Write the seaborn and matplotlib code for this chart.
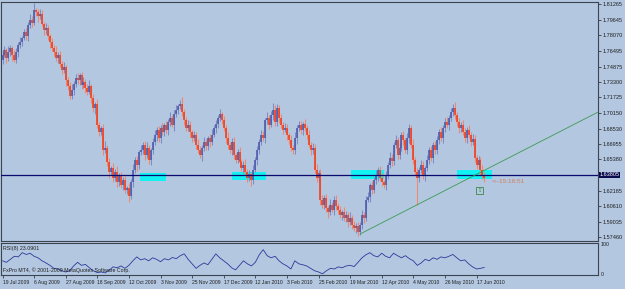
import numpy as np
import pandas as pd
import matplotlib
matplotlib.use('Agg')
import matplotlib.pyplot as plt
import matplotlib.transforms as mtransforms
from matplotlib.patches import Rectangle
import seaborn as sns

# --- Data ---
# daily closes, one per bar, 19 Jul 2009 .. mid Jun 2010
closes = [
    1.7605, 1.7656, 1.7574, 1.7636, 1.7677, 1.7605, 1.7554, 1.7636, 1.7707, 1.7738,
    1.7779, 1.7840, 1.7800, 1.7912, 1.7963, 1.7930, 1.8065, 1.8044, 1.8004, 1.8024,
    1.7922, 1.7860, 1.7881, 1.7799, 1.7738, 1.7677, 1.7636, 1.7574, 1.7610, 1.7513,
    1.7452, 1.7480, 1.7350, 1.7288, 1.7186, 1.7247, 1.7309, 1.7370, 1.7350, 1.7401,
    1.7299, 1.7329, 1.7268, 1.7227, 1.7288, 1.7166, 1.7063, 1.7100, 1.6890, 1.6818,
    1.6860, 1.6634, 1.6655, 1.6512, 1.6410, 1.6451, 1.6348, 1.6410, 1.6307, 1.6369,
    1.6277, 1.6328, 1.6226, 1.6246, 1.6164, 1.6307, 1.6430, 1.6532, 1.6481, 1.6614,
    1.6634, 1.6686, 1.6583, 1.6655, 1.6532, 1.6634, 1.6716, 1.6788, 1.6839, 1.6757,
    1.6859, 1.6818, 1.6890, 1.6839, 1.6920, 1.6961, 1.6890, 1.7002, 1.7043, 1.7084,
    1.7104, 1.7023, 1.6941, 1.6859, 1.6890, 1.6818, 1.6757, 1.6788, 1.6686, 1.6634,
    1.6583, 1.6655, 1.6716, 1.6675, 1.6757, 1.6716, 1.6788, 1.6859, 1.6900, 1.6961,
    1.7002, 1.6941, 1.6859, 1.6757, 1.6686, 1.6634, 1.6716, 1.6583, 1.6532, 1.6614,
    1.6512, 1.6451, 1.6481, 1.6410, 1.6348, 1.6389, 1.6328, 1.6430, 1.6532, 1.6634,
    1.6716, 1.6788, 1.6760, 1.6941, 1.6961, 1.6890, 1.6992, 1.7043, 1.6920, 1.7063,
    1.6961, 1.6890, 1.6839, 1.6859, 1.6788, 1.6737, 1.6655, 1.6634, 1.6757, 1.6859,
    1.6890, 1.6839, 1.6900, 1.6859, 1.6788, 1.6686, 1.6634, 1.6660, 1.6430, 1.6348,
    1.6400, 1.6124, 1.6073, 1.6144, 1.6042, 1.6001, 1.6073, 1.6022, 1.6124, 1.6062,
    1.6022, 1.5970, 1.6001, 1.5940, 1.5970, 1.5899, 1.5940, 1.5868, 1.5838, 1.5858,
    1.5797, 1.5868, 1.5970, 1.5940, 1.6124, 1.6150, 1.6277, 1.6226, 1.6328, 1.6379,
    1.6430, 1.6348, 1.6307, 1.6277, 1.6379, 1.6481, 1.6553, 1.6520, 1.6686, 1.6737,
    1.6583, 1.6655, 1.6788, 1.6737, 1.6634, 1.6757, 1.6859, 1.6686, 1.6532, 1.6410,
    1.6348, 1.6430, 1.6481, 1.6379, 1.6451, 1.6532, 1.6634, 1.6553, 1.6686, 1.6634,
    1.6737, 1.6818, 1.6757, 1.6859, 1.6920, 1.6890, 1.6961, 1.7023, 1.7063, 1.6992,
    1.6920, 1.6859, 1.6890, 1.6818, 1.6757, 1.6839, 1.6788, 1.6716, 1.6750, 1.6553,
    1.6481, 1.6532, 1.6430, 1.6369, 1.6348,
]
first_open = 1.7554

# wick lengths above / below the body, in pips
up_wick = [
    30, 45, 20, 60, 35, 25, 50, 40, 30, 55, 20, 35, 45, 30, 60, 40, 70, 25, 35, 50,
    40, 25, 55, 30, 20, 45, 35, 60, 25, 40, 30, 50, 20, 35, 45, 65, 30, 40, 55, 25,
    35, 50, 30, 45, 60, 25, 40, 30, 55, 35, 20, 45, 70, 30, 40, 25, 50, 35, 60, 30,
    45, 30, 40, 25, 55, 35, 60, 30, 45, 20, 50, 35, 40, 65, 30, 25, 45, 55, 35, 40,
    30, 55, 25, 40, 35, 60, 30, 45, 50, 25, 40, 70, 35, 30, 55, 40, 25, 45, 35, 60,
    40, 30, 50, 35, 25, 45, 60, 35, 40, 30, 55, 25, 45, 35, 65, 30, 40, 50, 25, 35,
    50, 35, 40, 60, 30, 45, 25, 55, 35, 40, 30, 50, 45, 25, 60, 35, 40, 30, 55, 45,
    35, 45, 30, 55, 40, 25, 50, 35, 60, 30, 45, 40, 25, 55, 35, 50, 30, 45, 40, 60,
    30, 40, 55, 35, 45, 25, 60, 30, 40, 50, 35, 45, 25, 55, 40, 30, 65, 35, 45, 30,
    45, 35, 50, 30, 40, 60, 25, 45, 35, 55, 30, 40, 50, 25, 45, 35, 60, 40, 30, 50,
    35, 50, 30, 45, 25, 55, 40, 35, 60, 30, 45, 35, 50, 40, 25, 55, 30, 45, 35, 40,
    40, 30, 55, 35, 45, 50, 30, 40, 25, 60, 35, 45, 30, 50, 40, 35, 55, 30, 45, 40,
    30, 45, 35, 50, 40,
]
down_wick = [
    40, 25, 55, 30, 45, 60, 20, 35, 50, 30, 45, 25, 40, 55, 30, 35, 20, 45, 60, 30,
    25, 50, 35, 40, 60, 30, 45, 25, 55, 35, 40, 30, 65, 45, 25, 35, 50, 30, 40, 55,
    45, 30, 55, 35, 25, 50, 40, 60, 30, 45, 35, 55, 25, 40, 60, 30, 45, 35, 50, 40,
    30, 55, 35, 45, 40, 25, 50, 35, 60, 40, 30, 45, 55, 25, 40, 50, 35, 30, 60, 45,
    55, 35, 45, 30, 50, 40, 25, 60, 35, 45, 30, 40, 55, 35, 25, 50, 45, 35, 40, 30,
    35, 60, 30, 45, 40, 55, 35, 25, 50, 40, 30, 45, 35, 55, 40, 30, 50, 45, 35, 25,
    40, 30, 55, 35, 45, 30, 60, 40, 25, 50, 45, 35, 30, 55, 40, 45, 25, 50, 35, 40,
    50, 35, 45, 25, 55, 40, 30, 45, 35, 60, 30, 40, 50, 35, 45, 25, 55, 40, 30, 45,
    35, 50, 30, 45, 40, 60, 35, 25, 55, 40, 45, 30, 50, 35, 40, 55, 30, 45, 35, 50,
    45, 30, 40, 55, 35, 25, 50, 40, 30, 45, 60, 35, 40, 30, 55, 45, 35, 50, 40, 30,
    40, 45, 35, 50, 30, 40, 55, 35, 45, 30, 50, 40, 35, 45, 60, 30, 40, 35, 50, 45,
    35, 40, 30, 55, 45, 35, 50, 30, 40, 45, 35, 55, 40, 30, 45, 50, 35, 40, 30, 45,
    40, 35, 50, 30, 45,
]

# long wicks that stick far out of the bodies
wick_bars = [16, 64, 90, 110, 126, 137, 180, 210, 228, 244]
wick_ends = [1.8106, 1.6103, 1.7145, 1.7043, 1.6287, 1.7115, 1.5766, 1.6073, 1.7104, 1.6307]

# RSI(8), every second bar
rsi_values = [
    45, 40, 50, 60, 58, 72, 66, 70, 60, 55, 45, 38, 30, 20, 18, 12, 8, 12, 28, 40,
    30, 33, 22, 12, 6, 8, 5, 14, 25, 22, 28, 20, 30, 45, 58, 48, 52, 45, 55, 50,
    42, 52, 48, 56, 52, 62, 68, 50, 35, 20, 30, 38, 32, 50, 68, 55, 45, 35, 22, 15,
    30, 45, 35, 28, 40, 65, 82, 62, 55, 60, 45, 35, 28, 18, 45, 35, 32, 28, 20, 12,
    8, 2, 12, 20, 18, 25, 22, 28, 30, 26, 40, 55, 65, 72, 62, 58, 70, 60, 55, 70,
    62, 55, 62, 52, 45, 30, 38, 50, 45, 55, 50, 58, 55, 60, 66, 55, 45, 48, 35, 25,
    18, 20, 23.09,
]

date_labels = ['19 Jul 2009', '6 Aug 2009', '27 Aug 2009', '18 Sep 2009', '12 Oct 2009',
               '3 Nov 2009', '25 Nov 2009', '17 Dec 2009', '12 Jan 2010', '3 Feb 2010',
               '25 Feb 2010', '19 Mar 2010', '12 Apr 2010', '4 May 2010', '26 May 2010',
               '17 Jun 2010']
price_ticks = [1.81265, 1.79645, 1.78070, 1.76495, 1.74875, 1.73300, 1.71725, 1.70150,
               1.68530, 1.66955, 1.65380, 1.62185, 1.60610, 1.59035, 1.57460]
price_tick_labels = ['1.81265', '1.79645', '1.78070', '1.76495', '1.74875', '1.73300',
                     '1.71725', '1.70150', '1.68530', '1.66955', '1.65380', '1.62185',
                     '1.60610', '1.59035', '1.57460']

hline_price = 1.6380
hline_label = '1.63805'

# support zones (cyan rectangles)
zone_start = [69.5, 116, 176.5, 230]
zone_end = [83, 133.5, 193, 248]
zone_low = [1.6318, 1.6328, 1.6338, 1.6338]
zone_high = [1.6399, 1.6410, 1.6430, 1.6430]

# trend line from the March low
trend_bars = [181, 301.5]
trend_prices = [1.5776, 1.7022]

# --- Style ---
bg = '#B3C7E0'
up_col = '#4B58A8'
down_col = '#F23A18'
up_wick_col = '#7F8CC6'
down_wick_col = '#F2876A'
frame_col = '#3C4450'

sns.set_theme(style='white', rc={'axes.facecolor': bg, 'figure.facecolor': bg})
plt.rcParams['font.family'] = ['Liberation Sans', 'DejaVu Sans']

W, H = 625, 289
fig = plt.figure(figsize=(W / 100, H / 100), dpi=100)
ax = fig.add_axes([1 / W, 1 - 241 / H, 597 / W, 239 / H])
ax_rsi = fig.add_axes([1 / W, 14 / H, 597 / W, 32 / H], sharex=ax)

bars = np.arange(len(closes))
closes_arr = np.array(closes)
opens_arr = np.r_[first_open, closes_arr[:-1]]
is_up = closes_arr >= opens_arr
highs = np.maximum(opens_arr, closes_arr) + np.array(up_wick) * 1e-4
lows = np.minimum(opens_arr, closes_arr) - np.array(down_wick) * 1e-4
for b, e in zip(wick_bars, wick_ends):
    highs[b] = max(highs[b], e)
    lows[b] = min(lows[b], e)

body_cols = [up_col if u else down_col for u in is_up]
wick_cols = [up_wick_col if u else down_wick_col for u in is_up]

# cyan zones under the candles
for s, e, lo, hi in zip(zone_start, zone_end, zone_low, zone_high):
    ax.add_patch(Rectangle((s, lo), e - s, hi - lo, facecolor='#12F2F2',
                           edgecolor='none', zorder=1))

# wicks + bodies
ax.vlines(bars, lows, highs, colors=wick_cols, linewidth=0.75, zorder=2)
ax.vlines(bars, opens_arr, closes_arr, colors=body_cols, linewidth=1.15, zorder=3)

ax.axhline(hline_price, color='#0A0A6E', linewidth=0.9, zorder=4)
sns.lineplot(x=trend_bars, y=trend_prices, ax=ax, color='#3E9A52', linewidth=0.6, zorder=4)

ax.text(247.5, 1.6318, '<--15:16:51', fontsize=4.6, color='#D07E5A', va='center', ha='left')
ax.text(241.5, 1.6221, '\u21e7', fontsize=4, color='#3A8A4A', va='center', ha='center',
        family=['DejaVu Sans'],
        bbox=dict(facecolor='none', edgecolor='#3A8A4A', linewidth=0.6, pad=0.6))

ax.set_xlim(-0.76, 301.5)
ax.set_ylim(1.5705, 1.8147)
ax.yaxis.tick_right()
ax.set_yticks(price_ticks)
ax.set_yticklabels(price_tick_labels)
ax.tick_params(axis='y', direction='out', length=2, width=0.5, labelsize=4, pad=1,
               colors='#202020', right=True, left=False)
ax.tick_params(axis='x', bottom=False, labelbottom=False)
trans = mtransforms.blended_transform_factory(ax.transAxes, ax.transData)
ax.text(1.003, hline_price, hline_label, transform=trans, fontsize=4, color='white',
        va='center', ha='left',
        bbox=dict(facecolor='#0A0A50', edgecolor='none', pad=0.4))

# RSI panel
rsi_bars = np.arange(0, len(closes), 2)
sns.lineplot(x=rsi_bars, y=rsi_values, ax=ax_rsi, color='#2B3A9A', linewidth=0.6)
ax_rsi.set_ylim(-2, 104)
ax_rsi.yaxis.tick_right()
ax_rsi.set_yticks([100, 0])
ax_rsi.set_yticklabels(['100', '0'])
ax_rsi.tick_params(axis='y', length=0, labelsize=3.8, pad=2, colors='#202020')
ax_rsi.set_xticks(np.arange(0, 16 * len(date_labels), 16))
ax_rsi.set_xticklabels(date_labels, ha='left')
ax_rsi.tick_params(axis='x', direction='out', length=2, width=0.5, labelsize=3.6, pad=1.5,
                   colors='#202020', bottom=True)
ax_rsi.text(0.004, 0.9, 'RSI(8) 23.0901', transform=ax_rsi.transAxes, fontsize=3.8,
            va='top', ha='left', color='#202020')
ax_rsi.text(0.004, 0.06, 'FxPro MT4, \u00a9 2001-2009 MetaQuotes Software Corp.',
            transform=ax_rsi.transAxes, fontsize=3.8, va='bottom', ha='left', color='#202020')
ax_rsi.set_xlabel('')
ax_rsi.set_ylabel('')
ax.set_xlabel('')
ax.set_ylabel('')

for a in (ax, ax_rsi):
    for sp in a.spines.values():
        sp.set_color(frame_col)
        sp.set_linewidth(0.8)
    a.set_facecolor(bg)

fig.savefig('out.png', dpi=100, facecolor=bg)
